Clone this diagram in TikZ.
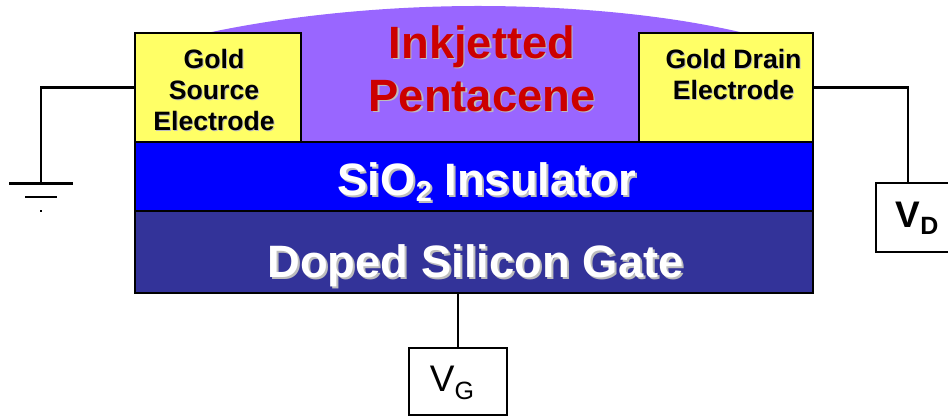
\documentclass[tikz,border=0pt]{standalone}
\usepackage{fontspec}
\setmainfont{Liberation Sans}

\definecolor{goldyellow}{HTML}{FFFF66}
\definecolor{pentacene}{HTML}{9966FF}
\definecolor{oxideblue}{HTML}{0000FF}
\definecolor{gatenavy}{HTML}{333399}
\definecolor{inkred}{HTML}{CC0000}
\definecolor{dropgray}{HTML}{BDBDBD}

\tikzset{
    layerbox/.style={draw=black, line width=2pt, anchor=north west, inner sep=0pt, outer sep=0pt},
    sourcebox/.style={draw=black, line width=2.5pt, inner sep=0pt, outer sep=0pt, fill=white},
    wire/.style={draw=black, line width=2.5pt},
    smalllabel/.style={align=center, font=\fontsize{26.6}{31}\selectfont\bfseries},
    biglabel/.style={align=center, font=\fontsize{45.3}{53}\selectfont\bfseries},
    barlabel/.style={font=\fontsize{45.4}{50}\selectfont\bfseries}
}

% text with a grey copy behind it
\newcommand{\dropnode}[6]{
    \node[#4, text=dropgray] at (#1+#6, #2+#6) {#5};
    \node[#4] (#3) at (#1, #2) {#5};
}

\begin{document}
\begin{tikzpicture}[x=1pt, y=-1pt]
    \clip (0, 0) rectangle (948, 419);
    \fill[white] (0, 0) rectangle (948, 419);

    % Pentacene dome over the channel
    \fill[pentacene] (207, 33) .. controls (300, 13) and (400, 6) .. (478, 6) .. controls (560, 6) and (660, 13) .. (744, 33) -- cycle;
    \node[anchor=north west, fill=pentacene, minimum width=338pt, minimum height=109pt, inner sep=0pt, outer sep=0pt] (channel) at (301, 33) {};

    % Electrodes
    \node[layerbox, fill=goldyellow, minimum width=166pt, minimum height=109pt] (source) at (135, 33) {};
    \node[layerbox, fill=goldyellow, minimum width=174pt, minimum height=109pt] (drain) at (639, 33) {};

    % Insulator and gate
    \node[layerbox, fill=oxideblue, minimum width=678pt, minimum height=69pt] (insulator) at (135, 142) {};
    \node[layerbox, fill=gatenavy, minimum width=678pt, minimum height=82pt] (gate) at (135, 211) {};

    % Labels
    \dropnode{214}{90}{sourcetext}{smalllabel}{Gold\\Source\\Electrode}{1}
    \dropnode{733.5}{74.5}{draintext}{smalllabel}{Gold Drain\\Electrode}{1}
    \dropnode{482}{68.5}{channeltext}{biglabel, text=inkred}{Inkjetted\\Pentacene}{1.5}
    \dropnode{487}{182}{insulatortext}{barlabel, text=white}{SiO\raisebox{-0.14em}{\fontsize{29}{29}\selectfont 2} Insulator}{2}
    \dropnode{475.5}{266}{gatetext}{barlabel, text=white}{Doped Silicon Gate}{2}

    % Voltage boxes
    \node[sourcebox, anchor=north west, minimum width=98pt, minimum height=67pt] (vg) at (409, 348) {};
    \node[font=\fontsize{37}{37}\selectfont] (vgtext) at (452, 383) {V\raisebox{-0.2em}{\fontsize{25}{25}\selectfont G}};
    \node[sourcebox, anchor=north west, minimum width=90pt, minimum height=69pt] (vd) at (876, 183) {};
    \node[font=\fontsize{37}{37}\selectfont\bfseries] (vdtext) at (917, 218) {V\raisebox{-0.2em}{\fontsize{25}{25}\selectfont D}};

    % Wires
    \coordinate (groundtap) at (41, 183);
    \coordinate (vdtap) at (908, 183);
    \draw[wire] (source.west) -| (groundtap);
    \draw[wire] (drain.east) -| (vdtap);
    \draw[wire] (gate.south -| vg.north) -- (vg.north);

    % Ground symbol
    \draw[wire] (9, 183.5) -- (73, 183.5);
    \draw[wire, line width=2pt] (25, 197.5) -- (57, 197.5);
    \draw[wire, line width=2pt] (40, 211) -- (42, 211);
\end{tikzpicture}
\end{document}
